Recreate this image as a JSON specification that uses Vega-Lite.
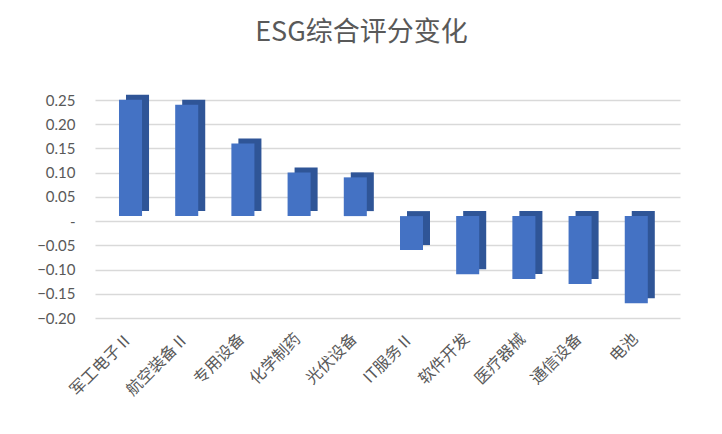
{
  "$schema": "https://vega.github.io/schema/vega-lite/v6.json",
  "width": 585,
  "height": 218,
  "autosize": {"type": "none"},
  "padding": {"left": 95, "top": 100, "right": 42, "bottom": 116},
  "background": "white",
  "title": {"text": "ESG综合评分变化", "fontSize": 27, "font": "Noto Sans CJK SC", "fontWeight": "normal", "color": "#595959", "dx": -26, "offset": 46},
  "data": {"values": [
    {"industry": "军工电子Ⅱ", "value": 0.24},
    {"industry": "航空装备Ⅱ", "value": 0.23},
    {"industry": "专用设备", "value": 0.15},
    {"industry": "化学制药", "value": 0.09},
    {"industry": "光伏设备", "value": 0.08},
    {"industry": "IT服务Ⅱ", "value": -0.07},
    {"industry": "软件开发", "value": -0.12},
    {"industry": "医疗器械", "value": -0.13},
    {"industry": "通信设备", "value": -0.14},
    {"industry": "电池", "value": -0.18}
  ]},
  "encoding": {
    "x": {"field": "industry", "type": "nominal", "sort": null, "title": null,
      "scale": {"paddingInner": 0.59, "paddingOuter": 0.5, "align": 0.427},
      "axis": {"labelAngle": -45, "labelAlign": "right", "labelBaseline": "middle", "labelFont": "Noto Sans CJK SC", "labelFontSize": 16, "labelColor": "#595959", "labelPadding": 18, "labelOffset": -1, "domain": false, "ticks": false, "grid": false}},
    "y": {"field": "value", "type": "quantitative", "title": null,
      "scale": {"domain": [-0.2, 0.25], "nice": false, "zero": false},
      "axis": {"values": [-0.2, -0.15, -0.1, -0.05, 0, 0.05, 0.1, 0.15, 0.2, 0.25], "labelExpr": "datum.value == 0 ? '-\u2002\u2002' : format(datum.value, '.2f')", "labelFont": "Lato", "labelFontSize": 15, "labelColor": "#595959", "labelPadding": 20, "domain": false, "ticks": false, "grid": true, "gridColor": "#D9D9D9", "gridWidth": 1.3}}
  },
  "layer": [
    {"mark": {"type": "bar", "color": "#2F5597", "xOffset": 7, "yOffset": -10}},
    {"mark": {"type": "bar", "color": "#4472C4", "yOffset": -5}}
  ],
  "config": {"view": {"stroke": null}}
}
